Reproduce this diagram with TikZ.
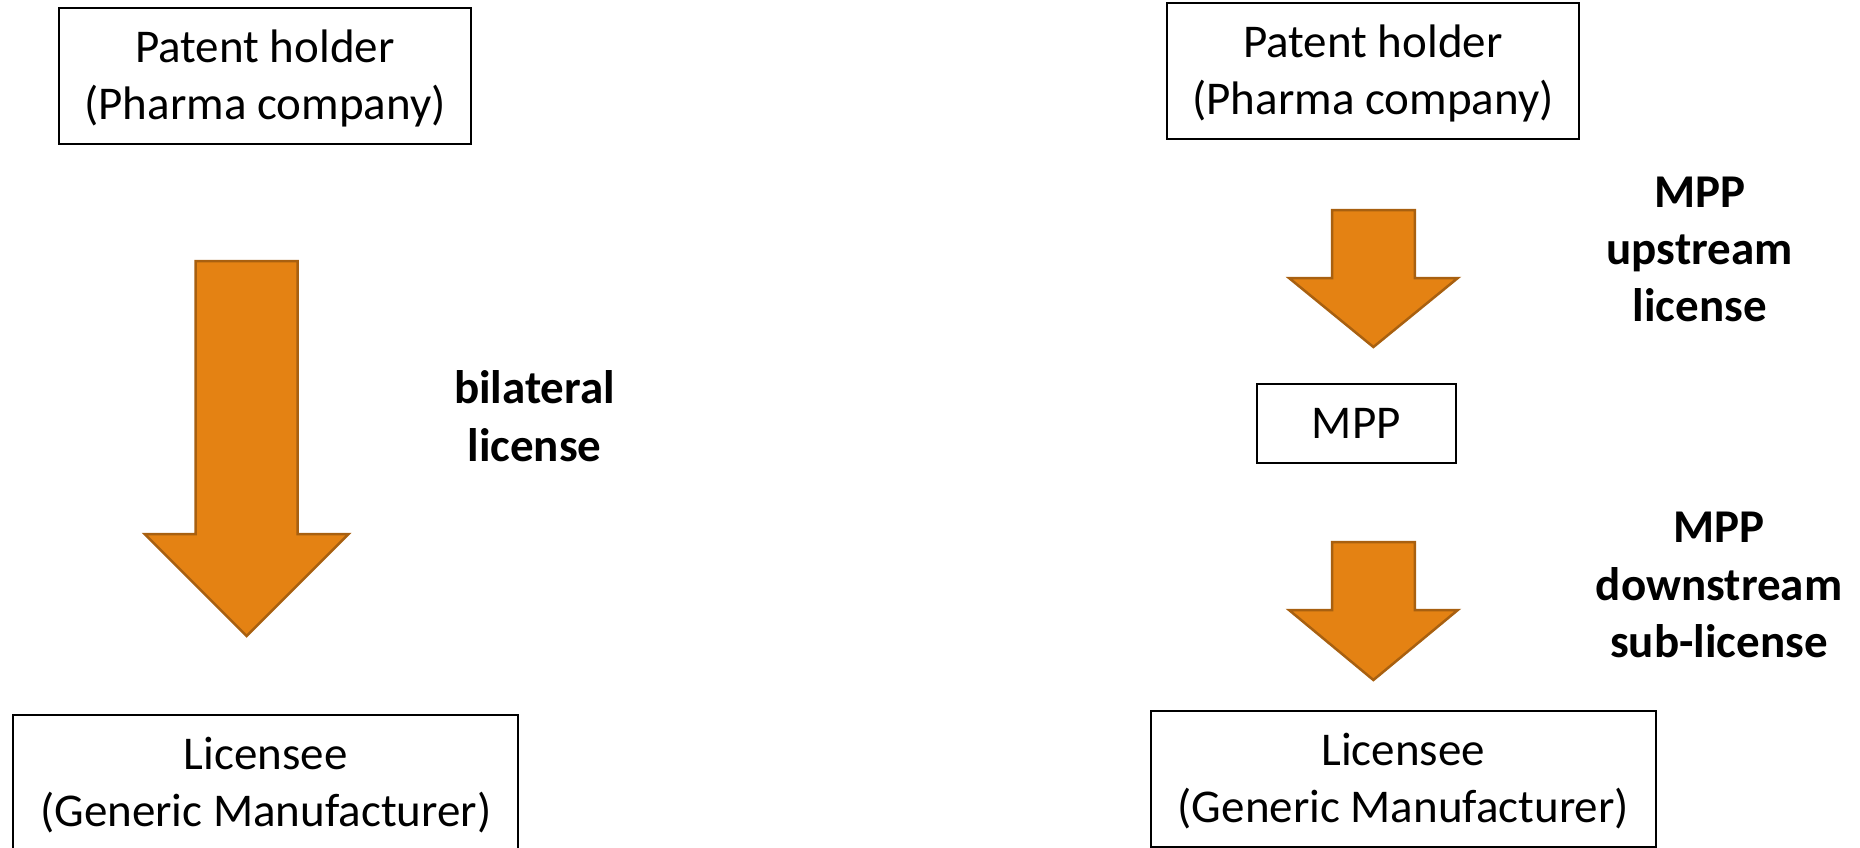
\documentclass[tikz,border=0pt]{standalone}
\usepackage{fontspec}
\setmainfont{Carlito}
\definecolor{arrfill}{RGB}{228,130,19}
\definecolor{arrline}{RGB}{168,96,16}
\newcommand\regfont{\fontsize{47}{56.5}\selectfont}
\newcommand\boldlbl{\bfseries\fontsize{47}{57.2}\selectfont}
\newcommand\topst[1]{\rule{0pt}{#1}}
\newcommand\botst[1]{\rule[-#1]{0pt}{#1}}
\begin{document}
\begin{tikzpicture}[x=1pt,y=-1pt,
  box/.style={draw=black, line width=1.8pt, inner sep=0pt, align=center, font=\regfont},
  lbl/.style={inner sep=0pt, align=center, font=\boldlbl},
  barrow/.style={fill=arrfill, draw=arrline, line width=2.5pt, line join=miter}]
\useasboundingbox (0,0) rectangle (1860,848);
% left
\node[box, minimum width=412pt, minimum height=136pt] (ph1) at (265,76)
  {\topst{42pt}Patent holder\\(Pharma company)\botst{12pt}};
\node[box, minimum width=505pt, minimum height=136pt] (lic1) at (265.7,783)
  {\topst{42pt}Licensee\\(Generic Manufacturer)\botst{12pt}};
\draw[barrow] (195.7,261) -- (297.7,261) -- (297.7,534) -- (348.7,534) -- (246.7,636)
  -- (144.7,534) -- (195.7,534) -- cycle;
\node[lbl] (bil) at (534.5,419.5) {\topst{38pt}bilateral\\license\botst{12pt}};
% right
\node[box, minimum width=412pt, minimum height=136pt] (ph2) at (1373,71)
  {\topst{42pt}Patent holder\\(Pharma company)\botst{12pt}};
\node[box, minimum width=199pt, minimum height=79pt] (mpp) at (1356.2,423.5) {MPP};
\node[box, minimum width=505pt, minimum height=136pt] (lic2) at (1403.3,779)
  {\topst{42pt}Licensee\\(Generic Manufacturer)\botst{12pt}};
\draw[barrow] (1332,210) -- (1414.8,210) -- (1414.8,278) -- (1457.8,278) -- (1373.4,347)
  -- (1289,278) -- (1332,278) -- cycle;
\draw[barrow] (1332,542) -- (1414.8,542) -- (1414.8,610) -- (1457.8,610) -- (1373.4,680)
  -- (1289,610) -- (1332,610) -- cycle;
\node[lbl] (up) at (1699.6,251.2) {\topst{38pt}MPP\\upstream\\license\botst{12pt}};
\node[lbl] (down) at (1719,587) {\topst{38pt}MPP\\downstream\\sub-license\botst{12pt}};
\end{tikzpicture}
\end{document}
